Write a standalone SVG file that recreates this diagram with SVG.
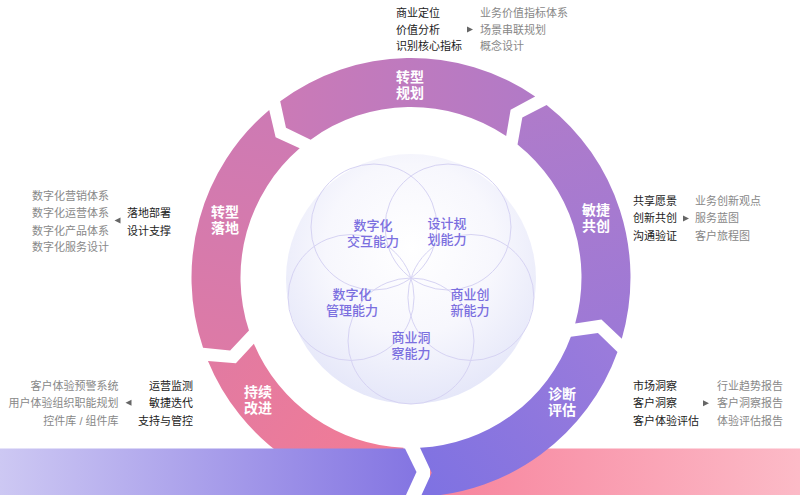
<svg xmlns="http://www.w3.org/2000/svg" width="800" height="495" viewBox="0 0 800 495">
<defs>
<style>
text{font-family:"Liberation Sans","Noto Sans CJK SC",sans-serif}
.seg{font-size:14px;font-weight:bold;fill:#ffffff;text-anchor:middle}
.cap{font-size:13px;font-weight:500;fill:#7b6fdf;text-anchor:middle}
.k{font-size:11px;fill:#222222}
.g{font-size:11px;fill:#888888}
.e{text-anchor:end}
.petal{fill:none;stroke:#d6d3f3;stroke-width:1}
.tri{fill:#666666}
</style>
<linearGradient id="gPlan" gradientUnits="userSpaceOnUse" x1="280" y1="100" x2="536" y2="100"><stop offset="0" stop-color="#cb7ab6"/><stop offset="1" stop-color="#b17ac7"/></linearGradient>
<linearGradient id="gAgile" gradientUnits="userSpaceOnUse" x1="540" y1="105" x2="600" y2="338"><stop offset="0" stop-color="#af7bca"/><stop offset="1" stop-color="#9d79d6"/></linearGradient>
<linearGradient id="gDiag" gradientUnits="userSpaceOnUse" x1="600" y1="340" x2="430" y2="490"><stop offset="0" stop-color="#9a7bdb"/><stop offset="1" stop-color="#7f72e2"/></linearGradient>
<linearGradient id="gLand" gradientUnits="userSpaceOnUse" x1="270" y1="110" x2="215" y2="350"><stop offset="0" stop-color="#cd7ab4"/><stop offset="1" stop-color="#dd7aa6"/></linearGradient>
<linearGradient id="gImp" gradientUnits="userSpaceOnUse" x1="215" y1="345" x2="390" y2="470"><stop offset="0" stop-color="#e17aa2"/><stop offset="1" stop-color="#f37c95"/></linearGradient>
<linearGradient id="gBandL" gradientUnits="userSpaceOnUse" x1="0" y1="0" x2="416" y2="0"><stop offset="0" stop-color="#cdc8f3"/><stop offset="1" stop-color="#8475e2"/></linearGradient>
<linearGradient id="gBandR" gradientUnits="userSpaceOnUse" x1="440" y1="0" x2="800" y2="0"><stop offset="0" stop-color="#f7849d"/><stop offset="1" stop-color="#fcbac7"/></linearGradient>
<radialGradient id="gSphere" cx="0.5" cy="0.38" r="0.62"><stop offset="0" stop-color="#ffffff"/><stop offset="0.55" stop-color="#f7f7fd"/><stop offset="1" stop-color="#e5e7f9"/></radialGradient>
</defs>

<rect x="0" y="0" width="800" height="495" fill="#ffffff"/>

<g id="core">
<circle cx="411" cy="279" r="125" fill="url(#gSphere)"/>
<circle class="petal" cx="373.97" cy="227.03" r="63"/>
<circle class="petal" cx="448.03" cy="227.03" r="63"/>
<circle class="petal" cx="470.92" cy="297.47" r="63"/>
<circle class="petal" cx="411" cy="341" r="63"/>
<circle class="petal" cx="351.08" cy="297.47" r="63"/>
</g>
<g id="cap-interact"><text class="cap" x="373" y="230">数字化</text><text class="cap" x="373" y="246">交互能力</text></g>
<g id="cap-design"><text class="cap" x="447" y="228">设计规</text><text class="cap" x="447" y="244">划能力</text></g>
<g id="cap-manage"><text class="cap" x="352" y="299">数字化</text><text class="cap" x="352" y="315">管理能力</text></g>
<g id="cap-innov"><text class="cap" x="470" y="299">商业创</text><text class="cap" x="470" y="315">新能力</text></g>
<g id="cap-insight"><text class="cap" x="411" y="342">商业洞</text><text class="cap" x="411" y="358">察能力</text></g>

<g id="band-right"><rect x="430" y="448.5" width="370" height="47" fill="url(#gBandR)"/></g>

<g id="seg-improve">
<path d="M401.43,496.79 A219.5,219.5 0 0 1 207.95,360.88 L235.86,363.24 L253.88,343.72 A170.5,170.5 0 0 0 403.56,447.84 Z" fill="url(#gImp)"/>
<text class="seg" x="258" y="397">持续</text><text class="seg" x="258" y="413">改进</text>
</g>
<g id="band-left"><path d="M0,448.5 H405 L416.5,472 L405.5,496 H0 Z" fill="url(#gBandL)"/></g>
<g id="seg-diagnose">
<path d="M617.48,351.95 A219.5,219.5 0 0 1 420.7,496.8 L431.7,472.7 L420,447.8 A170.5,170.5 0 0 0 570.86,336.79 L597.94,332.98 Z" fill="url(#gDiag)"/>
<text class="seg" x="562" y="399">诊断</text><text class="seg" x="562" y="415">评估</text>
</g>
<g id="seg-agile">
<path d="M546.61,104.90 A219.5,219.5 0 0 1 621.81,338.64 L601.44,319.43 L575.18,323.49 A170.5,170.5 0 0 0 517.52,144.38 L522.32,117.39 Z" fill="url(#gAgile)"/>
<text class="seg" x="596" y="214.5">敏捷</text><text class="seg" x="596" y="231">共创</text>
</g>
<g id="seg-plan">
<path d="M280.20,101.22 A219.5,219.5 0 0 1 535.17,96.50 L510.62,109.87 L506.17,136.03 A170.5,170.5 0 0 0 310.66,139.65 L285.98,127.86 Z" fill="url(#gPlan)"/>
<text class="seg" x="410" y="82">转型</text><text class="seg" x="410" y="97.5">规划</text>
</g>
<g id="seg-land">
<path d="M203.05,347.78 A219.5,219.5 0 0 1 269.22,109.94 L275.61,137.16 L299.68,148.36 A170.5,170.5 0 0 0 248.98,330.61 L230.16,350.45 Z" fill="url(#gLand)"/>
<text class="seg" x="225" y="216.5">转型</text><text class="seg" x="225" y="232.5">落地</text>
</g>

<g id="list-plan">
<text class="k" x="396" y="17">商业定位</text>
<text class="k" x="396" y="33.5">价值分析</text>
<text class="k" x="396" y="49.5">识别核心指标</text>
<text class="g" x="480" y="17">业务价值指标体系</text>
<text class="g" x="480" y="33.5">场景串联规划</text>
<text class="g" x="480" y="49.5">概念设计</text>
</g>
<g id="list-land">
<text class="g" x="32" y="199.5">数字化营销体系</text>
<text class="g" x="32" y="217">数字化运营体系</text>
<text class="g" x="32" y="234.7">数字化产品体系</text>
<text class="g" x="32" y="251.4">数字化服务设计</text>
<text class="k" x="127" y="217">落地部署</text>
<text class="k" x="127" y="234.7">设计支撑</text>
</g>
<g id="list-agile">
<text class="k" x="633" y="204.5">共享愿景</text>
<text class="k" x="633" y="222">创新共创</text>
<text class="k" x="633" y="239.7">沟通验证</text>
<text class="g" x="695" y="204.5">业务创新观点</text>
<text class="g" x="695" y="222">服务蓝图</text>
<text class="g" x="695" y="239.7">客户旅程图</text>
</g>
<g id="list-improve">
<text class="g e" x="118.5" y="389.5">客户体验预警系统</text>
<text class="g e" x="118.5" y="407">用户体验组织职能规划</text>
<text class="g e" x="118.5" y="424.7">控件库 / 组件库</text>
<text class="k e" x="193" y="389.5">运营监测</text>
<text class="k e" x="193" y="407">敏捷迭代</text>
<text class="k e" x="193" y="424.7">支持与管控</text>
</g>
<g id="list-diagnose">
<text class="k" x="633" y="389.5">市场洞察</text>
<text class="k" x="633" y="407">客户洞察</text>
<text class="k" x="633" y="424.7">客户体验评估</text>
<text class="g" x="717" y="389.5">行业趋势报告</text>
<text class="g" x="717" y="407">客户洞察报告</text>
<text class="g" x="717" y="424.7">体验评估报告</text>
</g>

<g id="connectors">
<path class="tri" d="M467,26.5 L473,29.5 L467,32.5 Z"/>
<path class="tri" d="M114.5,220.5 L120.5,217.5 L120.5,223.5 Z"/>
<path class="tri" d="M683,215.5 L689,218.5 L683,221.5 Z"/>
<path class="tri" d="M125.5,402.7 L131.5,399.7 L131.5,405.7 Z"/>
<path class="tri" d="M703,400.3 L709,403.3 L703,406.3 Z"/>
</g>
</svg>
